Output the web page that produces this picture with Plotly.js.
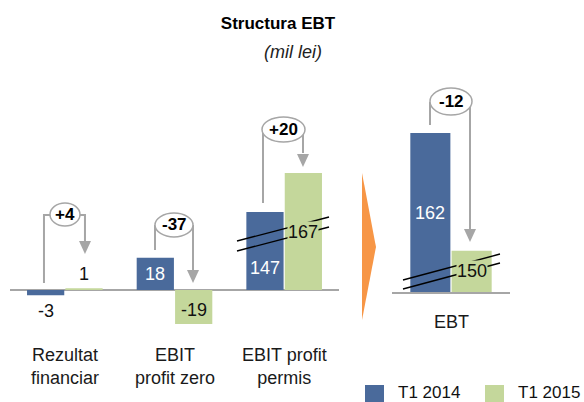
<!DOCTYPE html>
<html>
<head>
<meta charset="utf-8">
<script src="https://cdn.plot.ly/plotly-3.0.1.min.js"></script>
<style>
  html, body { margin: 0; padding: 0; background: #fff; }
  #chart { width: 584px; height: 402px; }
</style>
</head>
<body>
<div id="chart"></div>
<script>
// data (mil lei)
var categories = ["Rezultat<br>financiar", "EBIT<br>profit zero", "EBIT profit<br>permis", "EBT"];
var seriesNames = ["T1 2014", "T1 2015"];
var t1_2014 = [-3, 18, 147, 162];
var t1_2015 = [1, -19, 167, 150];

var colors = ["#4A6A9B", "#C4D79B"];
var grey = "#A6A6A6";
var font = "Liberation Sans, Arial, sans-serif";

// pixel -> paper helpers (margins are 0)
var W = 584, H = 402;
function X(p) { return p / W; }
function Y(p) { return 1 - p / H; }
function path(pts) {
    return pts.map(function (p, k) {
        return (k ? "L" : "M") + X(p[0]).toFixed(4) + "," + Y(p[1]).toFixed(4);
    }).join(" ") + (pts.closed ? " Z" : "");
}

// the chart uses cut axes: small values, "EBIT profit permis" and EBT each get their own y scale
var yMain = [-22.35, 78.2], yPermis = [107, 178.8], yEbt = [145.8, 167.4];
var yOf = ["y", "y", "y3", "y2"];
var xOf = ["x", "x", "x", "x2"];
var rangeOf = [yMain, yMain, yPermis, yEbt];
var groups = [[0, 1], [2], [3]];

var data = [];
[t1_2014, t1_2015].forEach(function (vals, s) {
    groups.forEach(function (g) {
        data.push({
            type: "bar",
            name: seriesNames[s],
            x: g.map(function (i) { return categories[i]; }),
            y: g.map(function (i) { return vals[i]; }),
            xaxis: xOf[g[0]],
            yaxis: yOf[g[0]],
            marker: { color: colors[s] },
            showlegend: false
        });
    });
});

// value labels
var annotations = [];
for (var i = 0; i < categories.length; i++) {
    for (var s = 0; s < 2; s++) {
        var v = s ? t1_2015[i] : t1_2014[i];
        var lo = Math.max(rangeOf[i][0], 0);
        var a = {
            xref: xOf[i], yref: yOf[i], xanchor: "center", yanchor: "middle",
            x: (i === 3 ? 0 : i) + (s ? 0.175 : -0.175),
            text: String(v), showarrow: false,
            font: { family: font, size: 18, color: s ? "#111" : "#fff" }
        };
        if (Math.abs(v) < 5) {
            a.y = v; a.yanchor = v < 0 ? "top" : "bottom";
            a.yshift = v < 0 ? -4 : 2;
            a.font.color = "#111";
        } else {
            a.y = v < 0 ? v / 2 : (lo + v) / 2;
            if (v < 0) a.yshift = -3;
            if (rangeOf[i][0] > 0 && s === 1) { a.bgcolor = colors[1]; a.borderpad = 0; }
            if (i === 2 && s === 0) a.yshift = -17; // kept below the break marks
        }
        annotations.push(a);
    }
}

// category labels
categories.forEach(function (c, i) {
    annotations.push({
        xref: xOf[i], yref: "paper", x: i === 3 ? 0 : i, y: Y(i === 3 ? 322 : 366),
        xanchor: "center", yanchor: "middle",
        text: c, showarrow: false, align: "center",
        font: { family: font, size: 18, color: "#1a1a1a" }
    });
});

// subtitle
annotations.push({
    xref: "paper", yref: "paper", x: X(293), y: Y(52), xanchor: "center", yanchor: "middle",
    showarrow: false, text: "<i>(mil lei)</i>", font: { family: font, size: 18, color: "#222" }
});

var shapes = [];

// orange chevron between the panels
var chev = [[362, 173], [376, 247], [362, 320]]; chev.closed = true;
shapes.push({ type: "path", xref: "paper", yref: "paper", path: path(chev),
    fillcolor: "#F79646", line: { width: 0 } });

// break marks
[[[237, 241], [329, 217]], [[237, 251], [329, 227]],
 [[403, 280], [500, 254]], [[403, 289], [500, 263]]].forEach(function (l) {
    shapes.push({ type: "line", xref: "paper", yref: "paper",
        x0: X(l[0][0]), y0: Y(l[0][1]), x1: X(l[1][0]), y1: Y(l[1][1]),
        line: { color: "#000", width: 1.3 } });
});

// change brackets: left leg, right leg with arrow, ellipse with the delta
var brackets = [
    { left: [[44, 283], [44, 215], [52, 215]], right: [[78, 215], [85, 215], [85, 242]], tip: 254, e: [50, 203, 80, 226] },
    { left: [[155, 250], [155, 225]], right: [[193, 225], [193, 270]], tip: 283, e: [155, 213, 193, 237] },
    { left: [[263, 203], [263, 130]], right: [[303, 130], [303, 153]], tip: 167, e: [262, 117, 305, 142] },
    { left: [[430, 125], [430, 102]], right: [[470, 102], [470, 229]], tip: 242, e: [430, 88, 472, 115] }
];
brackets.forEach(function (b, i) {
    shapes.push({ type: "path", xref: "paper", yref: "paper", path: path(b.left), line: { color: grey, width: 2 } });
    shapes.push({ type: "path", xref: "paper", yref: "paper", path: path(b.right), line: { color: grey, width: 2 } });
    var xr = b.right[b.right.length - 1][0];
    var head = [[xr - 6, b.tip - 13], [xr + 6, b.tip - 13], [xr, b.tip]]; head.closed = true;
    shapes.push({ type: "path", xref: "paper", yref: "paper", path: path(head), fillcolor: grey, line: { width: 0 } });
    shapes.push({ type: "circle", xref: "paper", yref: "paper",
        x0: X(b.e[0]), y0: Y(b.e[3]), x1: X(b.e[2]), y1: Y(b.e[1]),
        fillcolor: "#fff", line: { color: grey, width: 1.5 } });
    var d = t1_2015[i] - t1_2014[i];
    annotations.push({ xref: "paper", yref: "paper", showarrow: false,
        xanchor: "center", yanchor: "middle",
        x: X((b.e[0] + b.e[2]) / 2), y: Y((b.e[1] + b.e[3]) / 2),
        text: "<b>" + (d > 0 ? "+" : "") + d + "</b>",
        font: { family: font, size: 17, color: "#000" } });
});

// legend
seriesNames.forEach(function (n, s) {
    var x0 = s ? 485 : 365;
    shapes.push({ type: "rect", xref: "paper", yref: "paper",
        x0: X(x0), x1: X(x0 + 19), y0: Y(403), y1: Y(385),
        fillcolor: colors[s], line: { width: 0 } });
    annotations.push({ xref: "paper", yref: "paper", x: X(x0 + 32), y: Y(392.5),
        xanchor: "left", yanchor: "middle", showarrow: false, text: n, borderpad: 0,
        font: { family: font, size: 17, color: "#111" } });
});

var hidden = { showgrid: false, showticklabels: false, ticks: "", zeroline: false, fixedrange: true };

var layout = {
    width: 584, height: 402,
    margin: { l: 0, r: 0, t: 0, b: 0 },
    paper_bgcolor: "#fff", plot_bgcolor: "rgba(0,0,0,0)",
    barmode: "group", bargap: 0.3, bargroupgap: 0.03,
    showlegend: false,
    title: { text: "<b>Structura EBT</b>", x: X(278), y: Y(23), xanchor: "center", yanchor: "middle",
        font: { family: font, size: 17, color: "#000" } },
    xaxis: Object.assign({}, hidden, { domain: [X(10), X(339)], anchor: "y",
        type: "category", categoryorder: "array", categoryarray: categories.slice(0, 3), range: [-0.5, 2.5] }),
    yaxis: Object.assign({}, hidden, { domain: [Y(330), Y(150)], anchor: "x", range: yMain,
        zeroline: true, zerolinecolor: grey, zerolinewidth: 2 }),
    yaxis3: Object.assign({}, hidden, { domain: [Y(290), Y(150)], anchor: "x", range: yPermis }),
    xaxis2: Object.assign({}, hidden, { domain: [X(392), X(510)], anchor: "y2",
        type: "category", range: [-0.5, 0.5], showline: true, linecolor: grey, linewidth: 2 }),
    yaxis2: Object.assign({}, hidden, { domain: [Y(292), Y(80)], anchor: "x2", range: yEbt }),
    shapes: shapes,
    annotations: annotations
};

Plotly.newPlot("chart", data, layout, { displayModeBar: false, staticPlot: true });
</script>
</body>
</html>
